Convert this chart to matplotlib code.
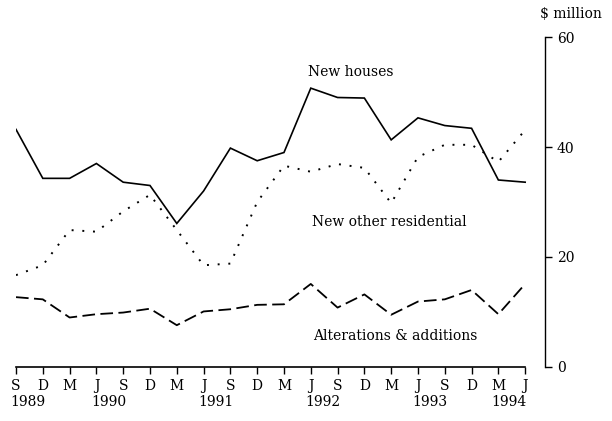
import numpy as np
import matplotlib
matplotlib.use('Agg')
import matplotlib.pyplot as plt

# quarterly, Sep 1989 .. Jun 1994
quarters = ['S', 'D', 'M', 'J', 'S', 'D', 'M', 'J', 'S', 'D',
            'M', 'J', 'S', 'D', 'M', 'J', 'S', 'D', 'M', 'J']
years = ['1989', '1990', '1991', '1992', '1993', '1994']
year_pos = [0.45, 3.45, 7.45, 11.45, 15.45, 18.4]

new_houses = [43.2, 34.3, 34.3, 37.0, 33.6, 33.0, 26.1, 32.0, 39.8, 37.5,
              39.0, 50.7, 49.0, 48.9, 41.3, 45.3, 43.9, 43.4, 34.0, 33.6]
new_other = [16.7, 18.5, 24.9, 24.6, 28.3, 31.3, 24.9, 18.5, 18.8, 30.0,
             36.6, 35.5, 36.9, 36.2, 29.8, 38.2, 40.4, 40.4, 37.3, 43.1]
alterations = [12.7, 12.3, 9.0, 9.6, 9.9, 10.6, 7.6, 10.1, 10.5, 11.3,
               11.4, 15.1, 10.8, 13.2, 9.5, 11.9, 12.3, 14.0, 9.6, 15.1]

plt.rcParams['font.family'] = ['DejaVu Serif']
plt.rcParams['font.size'] = 10

fig = plt.figure(figsize=(6.12, 4.21), dpi=100)
ax = fig.add_axes([16 / 612, 1 - 367 / 421, 529 / 612, 330 / 421])

x = np.arange(len(quarters))
ax.plot(x, new_houses, color='black', lw=1.2, solid_joinstyle='miter')
ax.plot(x, new_other, color='black', lw=1.4, linestyle=(0, (1, 4.5)))
ax.plot(x, alterations, color='black', lw=1.3, linestyle=(0, (7, 3)))

ax.set_xlim(0, 19.74)
ax.set_ylim(0, 60)

for s in ['left', 'top']:
    ax.spines[s].set_visible(False)
ax.spines['bottom'].set_bounds(0, 19)
ax.spines['right'].set_bounds(0, 60)
ax.spines['bottom'].set_linewidth(1.2)
ax.spines['right'].set_linewidth(1.0)

ax.set_xticks(x)
ax.set_xticklabels(quarters)
ax.tick_params(axis='x', direction='out', length=5, width=1, pad=3.5, labelsize=10)

ax.yaxis.tick_right()
ax.set_yticks([0, 20, 40, 60])
ax.tick_params(axis='y', direction='out', length=5, width=1, pad=3.5, labelsize=10)

for yr, p in zip(years, year_pos):
    ax.annotate(yr, xy=(p, 0), xycoords=('data', 'axes fraction'),
                xytext=(0, -25), textcoords='offset points',
                ha='center', va='center', fontsize=10)

ax.text(10.9, 53.6, 'New houses', ha='left', va='center', fontsize=10)
ax.text(11.05, 26.4, 'New other residential', ha='left', va='center', fontsize=10)
ax.text(11.08, 5.6, 'Alterations & additions', ha='left', va='center', fontsize=10)
ax.text(19.55, 64.2, '$ million', ha='left', va='center', fontsize=10, clip_on=False)

fig.savefig('out.png', dpi=100)
